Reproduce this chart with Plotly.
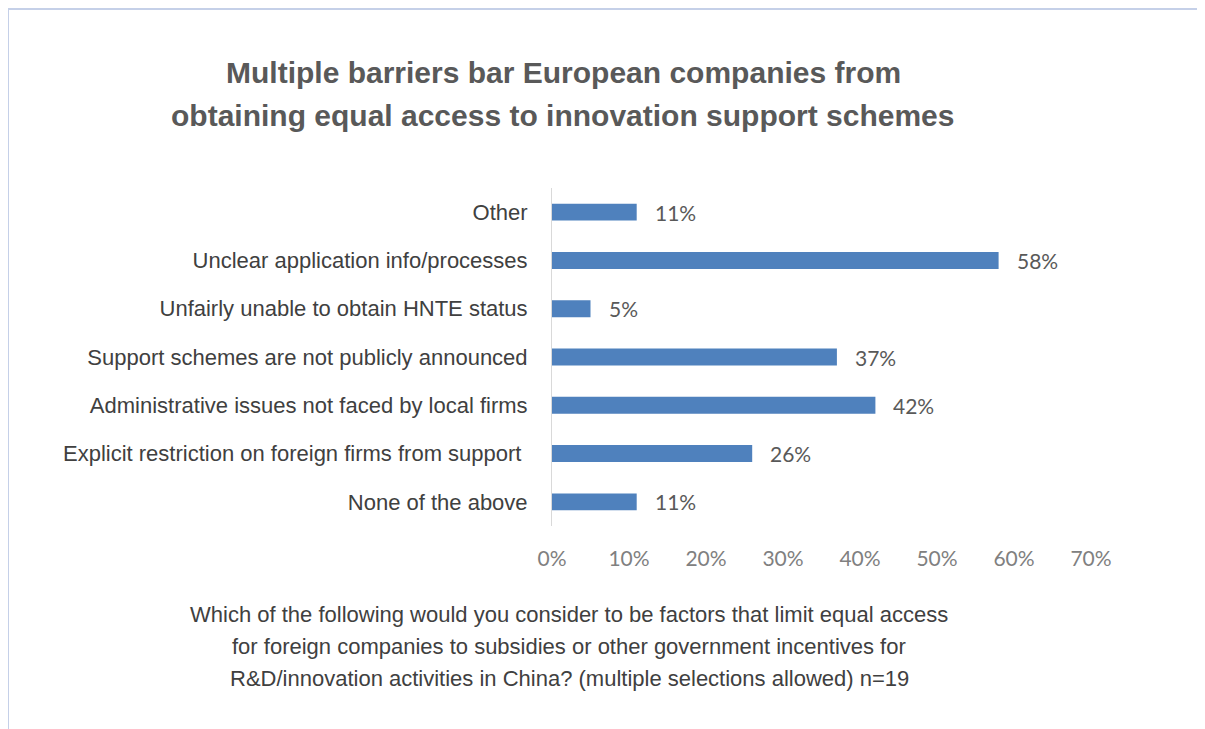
import plotly.graph_objects as go

OFF = 8  # page body margin
W, H = 1205 - OFF, 729 - OFF
L, R, T, B = 552 - OFF, 114, 188 - OFF, 203

categories = [
    "None of the above",
    "Explicit restriction on foreign firms from support ",
    "Administrative issues not faced by local firms",
    "Support schemes are not publicly announced",
    "Unfairly unable to obtain HNTE status",
    "Unclear application info/processes",
    "Other",
]
values = [0.11, 0.26, 0.42, 0.37, 0.05, 0.58, 0.11]
x_ticks = [0, 0.1, 0.2, 0.3, 0.4, 0.5, 0.6, 0.7]
x_tick_labels = ["0%", "10%", "20%", "30%", "40%", "50%", "60%", "70%"]

title_lines = [
    "Multiple barriers bar European companies from",
    "obtaining equal access to innovation support schemes",
]
note_lines = [
    "Which of the following would you consider to be factors that limit equal access",
    "for foreign companies to subsidies or other government incentives for",
    "R&D/innovation activities in China? (multiple selections allowed) n=19",
]

fig = go.Figure()
fig.add_trace(go.Bar(
    x=values, y=categories, orientation="h",
    marker=dict(color="#4f81bd", line=dict(width=0)),
    width=0.35, hoverinfo="skip",
))

for v, c in zip(values, categories):
    fig.add_annotation(x=v, y=c, text=f"{round(v*100)}%", showarrow=False,
                       xanchor="left", xshift=16,
                       font=dict(family="Lato, Open Sans, sans-serif", size=21, color="#595959"))

pw = W - L - R
ph = H - T - B
# light frame around the chart
fig.add_shape(type="rect", xref="paper", yref="paper",
              x0=(0 - L) / pw, x1=(W + 10 - L) / pw,
              y0=-(B + 10) / ph, y1=1 + (T - 1) / ph,
              line=dict(color="#c5d0e8", width=2), fillcolor="rgba(0,0,0,0)", layer="below")

for i, line in enumerate(title_lines):
    fig.add_annotation(xref="paper", yref="paper", x=(555 - L) / pw,
                       y=1 + (T - 65 - 42 * i) / ph,
                       text=f"<b>{line}</b>", showarrow=False, xanchor="center", yanchor="middle",
                       font=dict(family="Liberation Sans, Arial, sans-serif", size=30,
                                 color="#595959"))

for i, line in enumerate(note_lines):
    fig.add_annotation(xref="paper", yref="paper", x=(561 - L) / pw, y=-(88 + 32 * i) / ph,
                       text=line, showarrow=False, xanchor="center", yanchor="middle",
                       font=dict(family="Liberation Sans, Arial, sans-serif", size=22,
                                 color="#404040"))

fig.update_layout(
    width=W, height=H,
    margin=dict(l=L, r=R, t=T, b=B),
    paper_bgcolor="white", plot_bgcolor="white",
    showlegend=False,
    xaxis=dict(range=[0, 0.7], tickvals=x_ticks, ticktext=x_tick_labels,
               showgrid=False, zeroline=False, showline=False,
               ticks="", ticklabelstandoff=18,
               tickfont=dict(family="Lato, Open Sans, sans-serif", size=21, color="#808080")),
    yaxis=dict(showgrid=False, zeroline=False, showline=True, linecolor="#d9d9d9", linewidth=1,
               ticks="", ticklabelstandoff=19, range=[-0.5, 6.5],
               tickfont=dict(family="Liberation Sans, Arial, sans-serif", size=22, color="#404040")),
)

fig.write_html("out.html")
